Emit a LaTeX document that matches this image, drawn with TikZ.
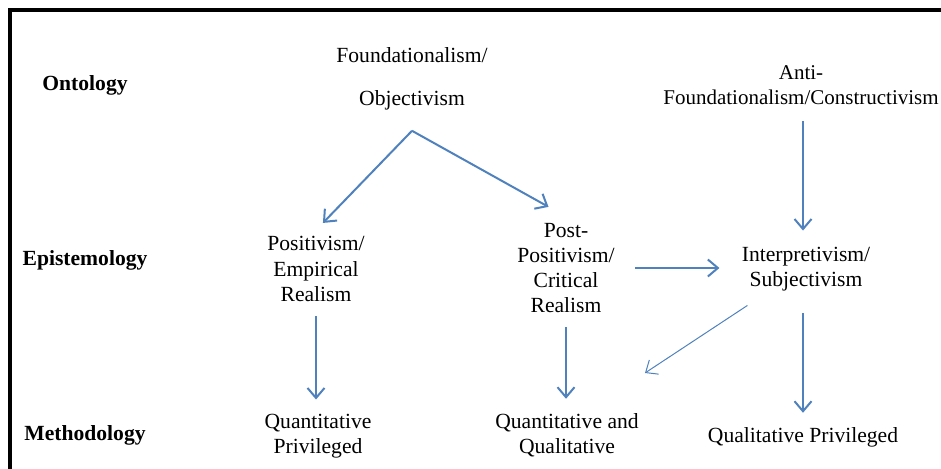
\documentclass[tikz,border=0pt]{standalone}
\usepackage{fontspec}
\setmainfont{Liberation Serif}
\usepackage{xcolor}
\usetikzlibrary{positioning,arrows.meta,calc}
\definecolor{arrowblue}{RGB}{79,129,189}
\tikzset{
  line/.style={-{Straight Barb[length=5pt,width=8.5pt]}, line width=1pt, draw=arrowblue},
  every node/.style={anchor=center}
}

\begin{document}
\begin{tikzpicture}[
  x=0.5pt, y=-0.5pt,
  font=\fontsize{10.8pt}{12.6pt}\selectfont,
  thin/.style={line, line width=0.5pt},
  level/.style={font=\fontsize{10.8pt}{12.6pt}\selectfont\bfseries},
  term/.style={align=center, inner sep=3pt},
  frame/.style={line width=2pt, draw=black}
]
\useasboundingbox (0,0) rectangle (941,469);
\draw[frame] (10,469) -- (10,10) -- (941,10);

\node[level] (onto) at (85,85) {Ontology};
\node[level] (epis) at (85,260) {Epistemology};
\node[level] (meth) at (85,435) {Methodology};

\node[term] (found) at (412,79) {Foundationalism/\\[9pt]Objectivism};
\node[term, font=\fontsize{10.5pt}{12.4pt}\selectfont] (anti) at (801,85) {Anti-\\Foundationalism/Constructivism};

\node[term] (posi) at (316,269) {Positivism/\\Empirical\\Realism};
\node[term] (post) at (566,268) {Post-\\Positivism/\\Critical\\Realism};
\node[term] (interp) at (806,269) {Interpretivism/\\Subjectivism};

\node[term] (quant) at (318,436) {Quantitative\\Privileged};
\node[term] (mixed) at (567,435) {Quantitative and\\Qualitative};
\node[term] (qual) at (803,437) {Qualitative Privileged};

\coordinate (apex) at ([yshift=-7pt]found.south);
\coordinate (mixEnd) at (645,373);

\draw[line, shorten >=5pt] (apex) -- (posi.north);
\draw[line, shorten >=10pt] (apex) -- (post.north);
\draw[line, shorten <=5pt, shorten >=5pt] (qual.north |- anti.south) -- (qual.north |- interp.north);
\draw[line, shorten <=7pt, shorten >=8pt] (post.east) -- (post.east -| interp.west);
\draw[thin] ([xshift=6pt,yshift=-4pt]interp.south west) -- (mixEnd);

\draw[line, shorten <=4pt, shorten >=4pt] (posi.south) -- (posi.south |- quant.north);
\draw[line, shorten <=4pt, shorten >=4pt] (post.south) -- (post.south |- mixed.north);
\draw[line, shorten <=8pt, shorten >=4pt] (qual.north |- interp.south) -- (qual.north);
\end{tikzpicture}
\end{document}
